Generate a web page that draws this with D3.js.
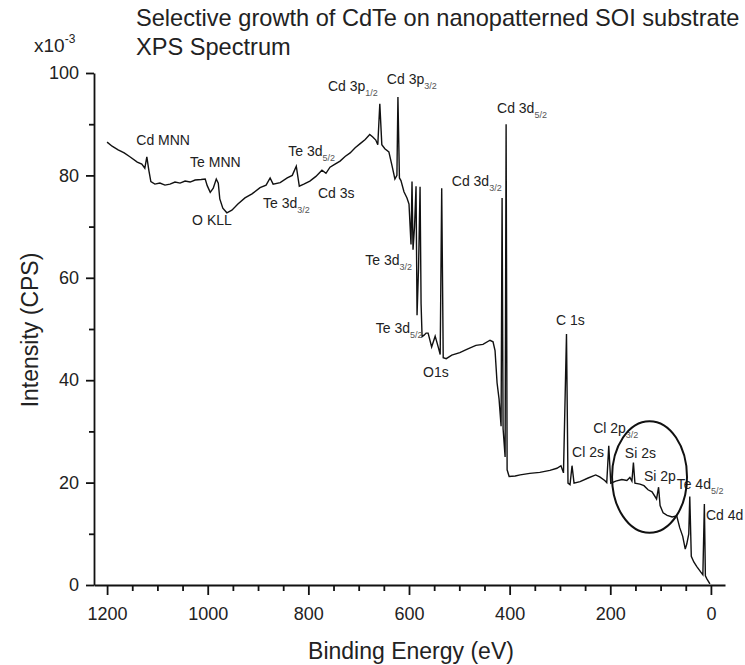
<!DOCTYPE html>
<html>
<head>
<meta charset="utf-8">
<script src="https://cdnjs.cloudflare.com/ajax/libs/d3/7.8.5/d3.min.js"></script>
<style>
    body { margin: 0; background: white; }
    svg { font-family: "Liberation Sans", Arial, sans-serif; }
</style>
</head>
<body>
<div id="xps_spectrum"></div>
<script>

//binding energy (eV), high to low
const bindingEnergy = [
    1200, 1190, 1178, 1166, 1154, 1140, 1131, 1125, 1121, 1117, 1113, 1105, 1095, 1085, 1075, 1065,
    1055, 1045, 1035, 1025, 1013, 1005, 1001, 995, 989, 983, 979, 976, 970, 962, 952, 940,
    926, 912, 896, 884, 876, 870, 856, 842, 832, 824, 818, 809, 797, 785, 773, 765,
    757, 747, 737, 727, 717, 707, 697, 687, 678, 672, 666, 662, 658, 654, 648, 640,
    634, 628, 624, 622, 619, 616, 610, 604, 600, 596, 594, 592, 589, 586, 584, 581,
    578, 576, 574, 570, 566, 562, 555, 548, 542, 538, 535, 532, 526, 515, 499, 483,
    467, 453, 439, 433, 429, 425, 421, 417, 415, 413, 409, 407, 405, 401, 389, 379,
    360, 340, 320, 306, 298, 293, 287, 284, 280, 276, 272, 260, 244, 229, 221, 211,
    207, 203, 199, 189, 177, 167, 161, 157, 154, 151, 141, 133, 125, 117, 108, 104,
    101, 95, 87, 77, 68, 62, 56, 51, 48, 44, 42, 39, 34, 28, 20, 16,
    13, 11, 8, 2
];

//intensity (CPS x10^-3) at each energy above
const intensity = [
    86.5, 85.7, 85.0, 84.4, 83.6, 82.6, 82.2, 81.4, 83.6, 81.0, 78.8, 78.3, 78.5, 78.1, 78.3, 78.7,
    78.5, 78.9, 78.7, 79.1, 79.2, 79.3, 78.0, 76.7, 77.5, 79.3, 78.5, 75.4, 73.6, 72.7, 73.2, 74.4,
    75.6, 76.4, 77.6, 78.1, 79.5, 78.3, 78.6, 79.5, 80.0, 81.8, 77.9, 78.3, 78.9, 79.8, 81.0, 80.4,
    81.6, 82.2, 82.8, 83.7, 84.4, 85.4, 86.2, 87.0, 88.0, 87.5, 86.9, 86.0, 94.0, 86.0, 85.2, 84.6,
    82.0, 79.3, 80.0, 95.3, 79.5, 79.0, 76.8, 75.6, 74.4, 66.5, 78.8, 65.5, 70.0, 77.9, 52.7, 62.0,
    77.8, 55.0, 48.5, 48.8, 49.2, 49.2, 46.5, 48.6, 46.5, 45.0, 77.5, 44.4, 44.2, 44.9, 45.4, 46.1,
    46.8, 47.0, 47.8, 47.5, 45.8, 39.5, 36.3, 31.0, 75.6, 30.5, 25.0, 90.0, 22.5, 21.2, 21.3, 21.5,
    21.8, 22.0, 22.4, 22.8, 23.3, 21.9, 49.0, 19.9, 19.6, 23.3, 19.9, 20.2, 20.9, 21.5, 21.1, 20.4,
    20.0, 27.2, 19.9, 20.3, 20.6, 20.4, 21.0, 20.3, 23.9, 19.9, 19.7, 19.4, 18.6, 18.2, 16.8, 19.1,
    15.5, 14.1, 13.6, 13.3, 13.5, 11.2, 9.5, 7.0, 8.0, 10.0, 17.3, 5.6, 4.5, 3.6, 2.5, 2.0,
    15.8, 1.8, 1.2, 0.2
];

//peak annotations, anchored in data units (energy, intensity of text baseline)
const peakNames = ["Cd MNN", "Te MNN", "O KLL", "Te 3d", "Te 3d", "Cd 3s", "Cd 3p", "Cd 3p",
    "Cd 3d", "Cd 3d", "Te 3d", "Te 3d", "O1s", "C 1s", "Cl 2p", "Cl 2s", "Si 2s", "Si 2p", "Te 4d", "Cd 4d"];
const peakSubs = ["", "", "", "5/2", "3/2", "", "1/2", "3/2",
    "5/2", "3/2", "3/2", "5/2", "", "", "3/2", "", "", "", "5/2", ""];
const peakEnergy = [1142, 1035, 1031, 840, 890, 781, 761, 644,
    425, 515, 687, 666, 572, 308, 234, 276, 171, 133, 68, 10];
const peakCounts = [85.9, 81.6, 70.3, 83.8, 73.6, 75.6, 96.5, 97.9,
    92.2, 77.9, 62.5, 49.2, 40.6, 50.8, 29.7, 25.0, 24.8, 20.3, 18.8, 12.7];

//axis ticks
const xMajorTicks = [1200, 1000, 800, 600, 400, 200, 0];
const xMinorTicks = [1150, 1100, 1050, 950, 900, 850, 750, 700, 650, 550, 500, 450, 350, 300, 250, 150, 100, 50];
const yMajorTicks = [0, 20, 40, 60, 80, 100];
const yMinorTicks = [10, 30, 50, 70, 90];

//region circled on the plot (Si peaks)
const circledEnergy = 122;
const circledCounts = 21.1;
const circledHalfWidth = 74.5;
const circledHalfHeight = 10.9;

const width = 745;
const height = 665;

const svg = d3.select("#xps_spectrum")
    .append("svg")
    .attr("width", width)
    .attr("height", height);

//scales
const xScale = d3.scaleLinear()
    .domain([1226, -28])
    .range([94, 725]);

const yScale = d3.scaleLinear()
    .domain([0, 100])
    .range([585, 73]);

//spectrum line
const points = bindingEnergy.map(function(e, i) { return [e, intensity[i]]; });

const line = d3.line()
    .x(function(d) { return xScale(d[0]); })
    .y(function(d) { return yScale(d[1]); });

svg.append("path")
    .datum(points)
    .attr("d", line)
    .attr("fill", "none")
    .attr("stroke", "#111")
    .attr("stroke-width", 1.4);

//x axis, major and minor ticks
svg.append("g")
    .attr("transform", "translate(0,585)")
    .call(d3.axisBottom(xScale).tickValues(xMajorTicks).tickFormat(d3.format("d"))
        .tickSize(10).tickSizeOuter(0).tickPadding(12));

svg.append("g")
    .attr("transform", "translate(0,585)")
    .call(d3.axisBottom(xScale).tickValues(xMinorTicks).tickSize(6).tickFormat(""))
    .select(".domain").remove();

//y axis
svg.append("g")
    .attr("transform", "translate(94,0)")
    .call(d3.axisLeft(yScale).tickValues(yMajorTicks).tickSize(8).tickSizeOuter(0).tickPadding(7));

svg.append("g")
    .attr("transform", "translate(94,0)")
    .call(d3.axisLeft(yScale).tickValues(yMinorTicks).tickSize(5).tickFormat(""))
    .select(".domain").remove();

svg.selectAll(".domain, .tick line")
    .attr("stroke", "#111")
    .attr("stroke-width", 1.8);

svg.selectAll(".tick text")
    .attr("font-family", "Liberation Sans, Arial, sans-serif")
    .style("font-size", "18px")
    .attr("fill", "#222");

//axis titles
svg.append("text")
    .attr("x", 411)
    .attr("y", 659)
    .attr("text-anchor", "middle")
    .attr("font-size", "23px")
    .attr("fill", "#222")
    .text("Binding Energy (eV)");

svg.append("text")
    .attr("transform", "rotate(-90)")
    .attr("x", -330)
    .attr("y", 38)
    .attr("text-anchor", "middle")
    .attr("font-size", "23px")
    .attr("fill", "#222")
    .text("Intensity (CPS)");

//scale factor note
const factor = svg.append("text")
    .attr("x", 34)
    .attr("y", 52)
    .attr("font-size", "19px")
    .attr("fill", "#222");
factor.append("tspan").text("x10");
factor.append("tspan").attr("dy", -9).attr("font-size", "12px").text("-3");

//title
svg.append("text")
    .attr("x", 136)
    .attr("y", 26)
    .attr("font-size", "23.6px")
    .attr("fill", "#222")
    .text("Selective growth of CdTe on nanopatterned SOI substrate");

svg.append("text")
    .attr("x", 136)
    .attr("y", 55)
    .attr("font-size", "23.6px")
    .attr("fill", "#222")
    .text("XPS Spectrum");

//peak labels with subscripts
peakNames.forEach(function(name, i) {
    const label = svg.append("text")
        .attr("x", xScale(peakEnergy[i]))
        .attr("y", yScale(peakCounts[i]))
        .attr("font-size", "14px")
        .attr("fill", "#222");
    label.append("tspan").text(name);
    if (peakSubs[i] !== "") {
        label.append("tspan")
            .attr("dy", 5)
            .attr("font-size", "9px")
            .attr("fill", "#555")
            .text(peakSubs[i]);
    }
});

//ellipse around the Si region
svg.append("ellipse")
    .attr("cx", xScale(circledEnergy))
    .attr("cy", yScale(circledCounts))
    .attr("rx", xScale(circledEnergy - circledHalfWidth) - xScale(circledEnergy))
    .attr("ry", yScale(circledCounts - circledHalfHeight) - yScale(circledCounts))
    .attr("fill", "none")
    .attr("stroke", "#111")
    .attr("stroke-width", 2);

</script>
</body>
</html>
